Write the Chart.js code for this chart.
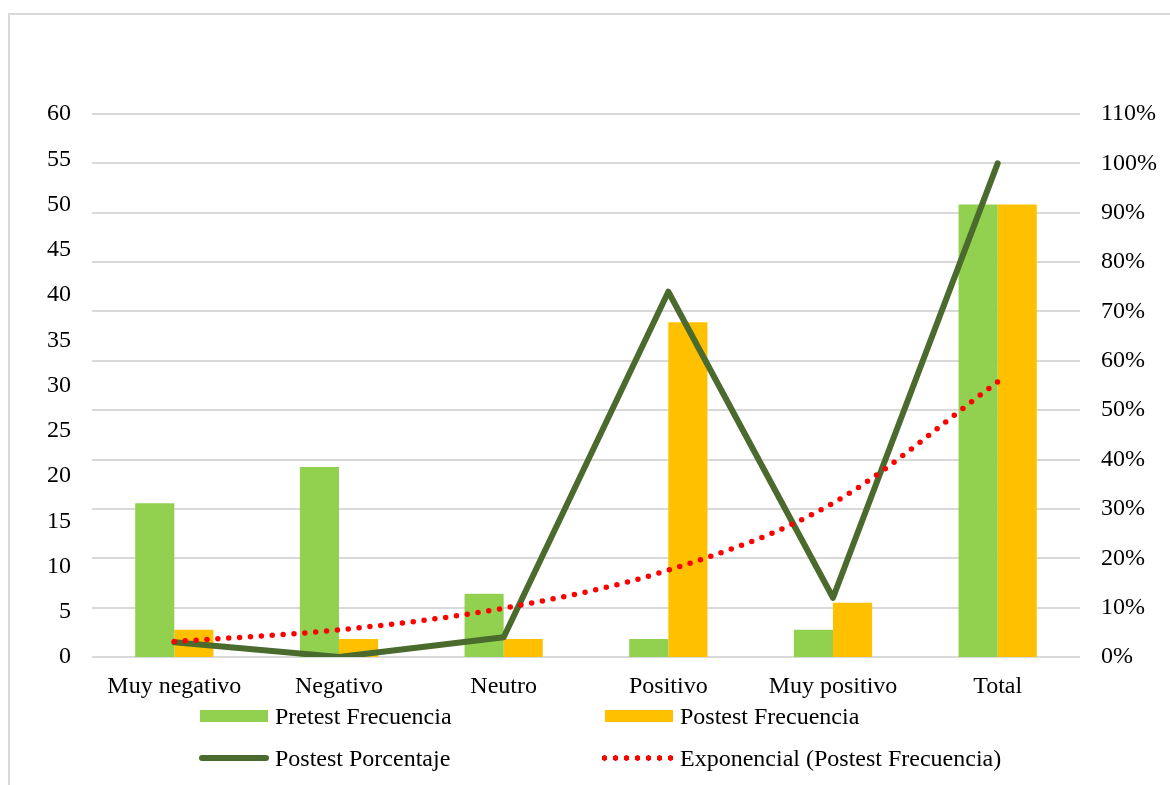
<!DOCTYPE html>
<html lang="es">
<head>
<meta charset="utf-8">
<title>Pretest / Postest</title>
<script src="https://cdn.jsdelivr.net/npm/chart.js@4.4.1/dist/chart.umd.min.js"></script>
<style>
	html, body { margin: 0; padding: 0; background: #fff; overflow: hidden; }
	#marco { position: absolute; left: 8px; top: 13px; width: 1300px; height: 900px; border: 2px solid #d9d9d9; }
	#grafico { position: absolute; left: 0; top: 0; }
	.leyenda { position: absolute; font-family: 'Liberation Serif', 'Times New Roman', serif; font-size: 24px; line-height: 24px; color: #000; white-space: nowrap; }
	.caja { position: absolute; width: 68px; height: 12px; }
	.linea { position: absolute; width: 70px; height: 6px; border-radius: 3px; background: #4a6b2d; }
	.puntos { position: absolute; width: 77px; height: 6px; background: radial-gradient(circle, #ff0000 2.5px, rgba(255,0,0,0) 3px) 0 0 / 11px 6px repeat-x; }
</style>
</head>
<body>
<div id="marco"></div>
<canvas id="grafico" width="1170" height="785"></canvas>

<!-- leyenda en html -->
<div class="caja" style="left:200px; top:710px; background:#92d050;"></div>
<div class="leyenda" style="left:275px; top:704px;">Pretest Frecuencia</div>
<div class="caja" style="left:605px; top:710px; background:#ffc000;"></div>
<div class="leyenda" style="left:680px; top:704px;">Postest Frecuencia</div>
<div class="linea" style="left:199px; top:755px;"></div>
<div class="leyenda" style="left:275px; top:746px;">Postest Porcentaje</div>
<div class="puntos" style="left:599px; top:755px;"></div>
<div class="leyenda" style="left:680px; top:746px;">Exponencial (Postest Frecuencia)</div>

<script>
(function() {
	'use strict';

	// datos
	var categorias = ['Muy negativo', 'Negativo', 'Neutro', 'Positivo', 'Muy positivo', 'Total'];
	var pretestFrecuencia = [17, 21, 7, 2, 3, 50];
	var postestFrecuencia = [3, 2, 2, 37, 6, 50];
	var postestPorcentaje = [0.03, 0, 0.04, 0.74, 0.12, 1.00];
	var exponencialPostest = [1.7, 3.0, 5.4, 9.6, 17.0, 30.4];

	// ejes
	var ejeIzquierdo = [0, 60, 5];     // min, max, paso
	var ejeDerecho = [0, 1.1, 0.1];    // min, max, paso (porcentaje)

	Chart.defaults.font.family = "'Liberation Serif', 'Times New Roman', serif";
	Chart.defaults.font.size = 24;
	Chart.defaults.color = '#000';

	var ctx = document.getElementById('grafico');

	new Chart(ctx, {
		type: 'bar',
		data: {
			labels: categorias,
			datasets: [
				{
					type: 'line',
					label: 'Exponencial (Postest Frecuencia)',
					data: exponencialPostest,
					yAxisID: 'y',
					borderColor: '#ff0000',
					borderWidth: 5.5,
					borderDash: [0, 10.9],
					borderCapStyle: 'round',
					cubicInterpolationMode: 'monotone',
					pointRadius: 0,
					fill: false,
					order: 0
				},
				{
					type: 'line',
					label: 'Postest Porcentaje',
					data: postestPorcentaje,
					yAxisID: 'y1',
					borderColor: '#4a6b2d',
					borderWidth: 6,
					borderCapStyle: 'round',
					borderJoinStyle: 'round',
					tension: 0,
					pointRadius: 0,
					fill: false,
					order: 1
				},
				{
					label: 'Pretest Frecuencia',
					data: pretestFrecuencia,
					yAxisID: 'y',
					backgroundColor: '#92d050',
					barPercentage: 1,
					categoryPercentage: 0.475,
					order: 2
				},
				{
					label: 'Postest Frecuencia',
					data: postestFrecuencia,
					yAxisID: 'y',
					backgroundColor: '#ffc000',
					barPercentage: 1,
					categoryPercentage: 0.475,
					order: 3
				}
			]
		},
		options: {
			responsive: false,
			animation: false,
			layout: { padding: { top: 114, left: 0, right: 0, bottom: 0 } },
			plugins: {
				legend: { display: false },
				tooltip: { enabled: false }
			},
			scales: {
				x: {
					grid: { display: false, drawTicks: false },
					border: { display: false },
					ticks: { padding: 15, maxRotation: 0, autoSkip: false },
					afterFit: function(scale) { scale.height = 128; }
				},
				y: {
					position: 'left',
					min: ejeIzquierdo[0],
					max: ejeIzquierdo[1],
					grid: { display: false, drawTicks: false },
					border: { display: false },
					ticks: { stepSize: ejeIzquierdo[2], padding: 21 },
					afterFit: function(scale) { scale.width = 92; }
				},
				y1: {
					position: 'right',
					min: ejeDerecho[0],
					max: ejeDerecho[1],
					grid: { color: '#d9d9d9', lineWidth: 2, drawTicks: false },
					border: { display: false },
					ticks: {
						stepSize: ejeDerecho[2],
						padding: 21,
						callback: function(v) { return Math.round(v * 100) + '%'; }
					},
					afterFit: function(scale) { scale.width = 90; }
				}
			}
		}
	});
})();
</script>
</body>
</html>
